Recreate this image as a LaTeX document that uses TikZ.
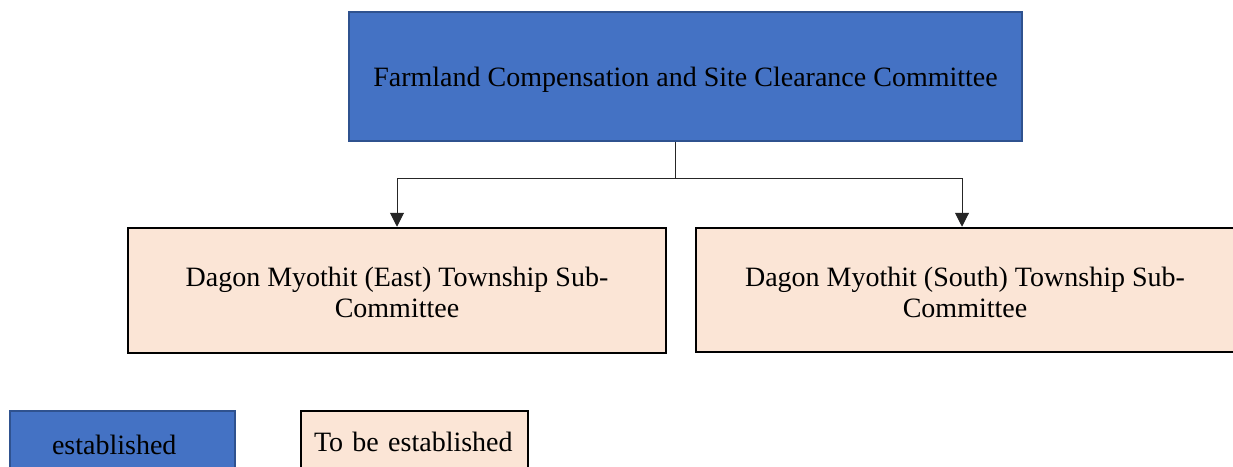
\documentclass[tikz,border=0pt]{standalone}
\usepackage{fontspec}
\setmainfont{Liberation Serif}
\usetikzlibrary{arrows.meta}
\definecolor{estblue}{HTML}{4472C4}
\definecolor{estborder}{HTML}{2F528F}
\definecolor{tbepink}{HTML}{FBE5D6}
\tikzset{
  estbox/.style={draw=estborder, line width=2pt, fill=estblue, inner sep=0pt, align=center,
    font=\fontsize{28}{31}\selectfont},
  tbebox/.style={draw=black, line width=2.5pt, fill=tbepink, inner sep=0pt, align=center,
    font=\fontsize{28}{31}\selectfont},
  conn/.style={draw=black!85, line width=1pt},
  arr/.style={conn, -{Triangle[length=14pt,width=14pt]}}
}
\begin{document}
\begin{tikzpicture}[x=1pt,y=-1pt]
\useasboundingbox (0,0) rectangle (1233,466);
\clip (0,0) rectangle (1233,466);
\node[estbox, minimum width=673pt, minimum height=129pt] (top) at (685.5,76.5)
  {\rule{0pt}{25pt}Farmland Compensation and Site Clearance Committee};
\node[tbebox, minimum width=538pt, minimum height=125pt] (east) at (397,290.5)
  {\rule{0pt}{24pt}Dagon Myothit (East) Township Sub-\\Committee};
\node[tbebox, minimum width=538pt, minimum height=124pt] (south) at (965,290)
  {\rule{0pt}{24pt}Dagon Myothit (South) Township Sub-\\Committee};
\coordinate (split) at (675,178);
\draw[conn] (top.south -| split) -- (split);
\draw[arr] (split) -| (east.north);
\draw[arr] (split) -| ([xshift=-3pt]south.north);
\node[estbox, text width=141pt, inner xsep=42pt, align=left, minimum height=68pt] (legA) at (122.5,445) {established};
\node[tbebox, text width=201pt, inner xsep=13pt, align=left, minimum height=62pt] (legB) at (414.5,442) {To be established};
\end{tikzpicture}
\end{document}
